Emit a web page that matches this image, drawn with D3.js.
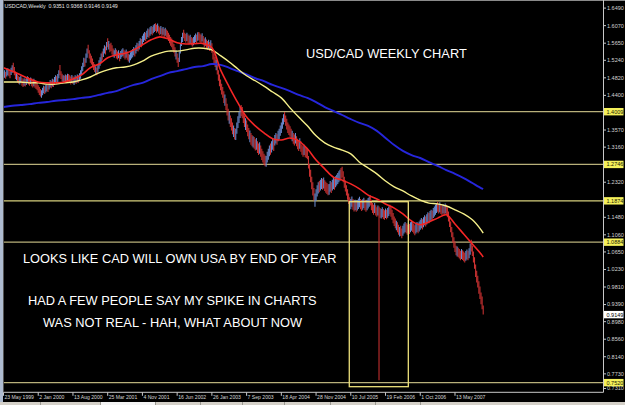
<!DOCTYPE html>
<html><head><meta charset="utf-8">
<script src="https://cdn.jsdelivr.net/npm/d3@7"></script>
<style>html,body{margin:0;padding:0;background:#000;overflow:hidden}svg{display:block}</style>
</head><body><svg id="c" width="625" height="405"></svg>
<script>
// Weekly USDCAD bars (23 May 1999 onward), high / low / direction (u = up, d = down)
const weekHigh = [
1.497,1.500,1.496,1.503,1.505,1.502,1.498,1.506,1.512,1.518,
1.508,1.497,1.494,1.490,1.486,1.484,1.487,1.482,1.478,1.481,
1.479,1.483,1.486,1.484,1.480,1.483,1.481,1.477,1.480,1.476,
1.473,1.470,1.464,1.460,1.455,1.452,1.458,1.463,1.461,1.465,
1.468,1.466,1.472,1.477,1.475,1.480,1.478,1.484,1.488,1.486,
1.491,1.500,1.513,1.498,1.492,1.488,1.487,1.490,1.488,1.492,
1.491,1.488,1.485,1.489,1.486,1.483,1.488,1.486,1.490,1.488,
1.493,1.500,1.510,1.518,1.530,1.528,1.540,1.552,1.561,1.548,
1.540,1.535,1.528,1.520,1.515,1.510,1.506,1.515,1.524,1.531,
1.540,1.545,1.552,1.560,1.557,1.568,1.577,1.570,1.563,1.566,
1.560,1.552,1.548,1.553,1.549,1.545,1.548,1.542,1.546,1.550,
1.553,1.549,1.546,1.550,1.545,1.540,1.538,1.543,1.547,1.551,
1.556,1.553,1.560,1.566,1.564,1.570,1.577,1.575,1.583,1.588,
1.592,1.590,1.595,1.600,1.598,1.603,1.606,1.604,1.608,1.611,
1.613,1.609,1.612,1.607,1.603,1.606,1.601,1.604,1.599,1.602,
1.598,1.595,1.590,1.585,1.580,1.576,1.570,1.563,1.555,1.548,
1.540,1.530,1.545,1.565,1.580,1.590,1.597,1.590,1.587,1.590,
1.586,1.582,1.585,1.580,1.577,1.580,1.584,1.588,1.585,1.591,
1.592,1.588,1.585,1.589,1.582,1.576,1.579,1.574,1.570,1.573,
1.568,1.572,1.565,1.550,1.540,1.532,1.525,1.515,1.500,1.490,
1.478,1.468,1.460,1.450,1.442,1.433,1.420,1.408,1.400,1.392,
1.385,1.375,1.368,1.362,1.360,1.375,1.390,1.400,1.412,1.417,
1.412,1.400,1.392,1.385,1.380,1.370,1.362,1.356,1.350,1.345,
1.342,1.340,1.335,1.338,1.330,1.325,1.328,1.320,1.312,1.306,
1.300,1.296,1.295,1.305,1.312,1.320,1.325,1.330,1.336,1.333,
1.345,1.350,1.347,1.355,1.360,1.368,1.375,1.385,1.395,1.400,
1.392,1.384,1.375,1.370,1.366,1.360,1.355,1.350,1.346,1.350,
1.342,1.336,1.332,1.337,1.330,1.322,1.318,1.322,1.318,1.315,
1.312,1.295,1.275,1.262,1.245,1.232,1.218,1.205,1.215,1.225,
1.232,1.235,1.238,1.242,1.240,1.243,1.237,1.233,1.230,1.227,
1.228,1.235,1.232,1.238,1.242,1.240,1.246,1.250,1.254,1.258,
1.262,1.266,1.269,1.258,1.245,1.236,1.225,1.215,1.205,1.196,
1.192,1.198,1.192,1.187,1.190,1.186,1.189,1.193,1.197,1.192,
1.188,1.191,1.195,1.190,1.186,1.190,1.194,1.198,1.201,1.190,
1.182,1.178,1.182,1.177,1.172,1.176,1.174,1.170,1.168,1.172,
1.168,1.165,1.169,1.166,1.170,1.174,1.178,1.172,1.166,1.158,
1.150,1.145,1.140,1.136,1.130,1.125,1.128,1.121,1.128,1.133,
1.137,1.134,1.130,1.135,1.132,1.136,1.140,1.137,1.133,1.129,
1.133,1.137,1.134,1.138,1.142,1.146,1.143,1.148,1.153,1.150,
1.155,1.160,1.158,1.163,1.166,1.164,1.170,1.174,1.178,1.182,
1.185,1.180,1.184,1.179,1.176,1.180,1.177,1.181,1.178,1.172,
1.162,1.150,1.138,1.125,1.112,1.100,1.090,1.080,1.078,1.075,
1.072,1.068,1.072,1.069,1.066,1.063,1.067,1.071,1.068,1.074,
1.085,1.094,1.080,1.066,1.052,1.035,1.020,1.008,0.995,0.982,
0.968,0.958,0.937];
const weekLow = [
1.478,1.482,1.480,1.485,1.488,1.486,1.481,1.489,1.494,1.497,
1.488,1.479,1.476,1.471,1.468,1.466,1.470,1.463,1.460,1.463,
1.461,1.465,1.469,1.466,1.463,1.467,1.462,1.459,1.462,1.458,
1.455,1.452,1.446,1.441,1.437,1.434,1.440,1.445,1.443,1.447,
1.450,1.448,1.454,1.459,1.457,1.461,1.460,1.465,1.470,1.468,
1.472,1.481,1.488,1.479,1.474,1.470,1.469,1.472,1.470,1.474,
1.473,1.470,1.466,1.470,1.467,1.465,1.469,1.468,1.471,1.470,
1.474,1.480,1.489,1.498,1.508,1.509,1.518,1.530,1.540,1.528,
1.518,1.514,1.508,1.501,1.496,1.492,1.488,1.495,1.504,1.511,
1.519,1.525,1.532,1.540,1.538,1.548,1.555,1.550,1.543,1.546,
1.538,1.533,1.530,1.534,1.528,1.526,1.529,1.522,1.527,1.531,
1.534,1.530,1.526,1.530,1.525,1.521,1.518,1.524,1.528,1.531,
1.536,1.533,1.540,1.546,1.545,1.550,1.557,1.555,1.563,1.568,
1.572,1.570,1.575,1.580,1.578,1.583,1.587,1.584,1.589,1.592,
1.594,1.590,1.593,1.588,1.584,1.587,1.582,1.585,1.580,1.583,
1.579,1.575,1.570,1.565,1.559,1.555,1.549,1.542,1.533,1.526,
1.518,1.508,1.520,1.540,1.558,1.568,1.577,1.570,1.566,1.570,
1.565,1.562,1.565,1.560,1.557,1.560,1.564,1.568,1.565,1.571,
1.572,1.568,1.565,1.569,1.561,1.555,1.559,1.553,1.549,1.552,
1.546,1.550,1.542,1.526,1.515,1.508,1.500,1.490,1.475,1.462,
1.452,1.442,1.434,1.422,1.415,1.405,1.392,1.380,1.372,1.364,
1.356,1.347,1.340,1.334,1.333,1.348,1.362,1.374,1.386,1.390,
1.385,1.374,1.364,1.357,1.352,1.342,1.335,1.328,1.322,1.318,
1.315,1.312,1.308,1.310,1.302,1.297,1.300,1.293,1.285,1.279,
1.274,1.270,1.269,1.279,1.286,1.294,1.298,1.303,1.310,1.307,
1.320,1.325,1.322,1.330,1.335,1.343,1.350,1.360,1.370,1.376,
1.367,1.358,1.350,1.345,1.341,1.335,1.330,1.324,1.320,1.325,
1.318,1.311,1.307,1.312,1.305,1.298,1.293,1.297,1.292,1.290,
1.287,1.265,1.245,1.232,1.215,1.200,1.188,1.173,1.187,1.198,
1.205,1.208,1.212,1.216,1.214,1.217,1.211,1.207,1.204,1.201,
1.202,1.209,1.206,1.212,1.216,1.214,1.220,1.224,1.228,1.232,
1.236,1.240,1.243,1.232,1.219,1.210,1.200,1.190,1.180,1.172,
1.167,1.173,1.166,1.162,1.165,1.161,1.164,1.168,1.172,1.167,
1.163,1.166,1.170,1.165,1.161,1.165,1.169,1.173,1.176,1.165,
1.158,1.154,1.158,1.152,1.149,1.152,0.758,1.147,1.145,1.148,
1.144,1.142,1.146,1.143,1.147,1.151,1.155,1.149,1.142,1.134,
1.127,1.122,1.117,1.112,1.106,1.102,1.103,1.098,1.104,1.109,
1.113,1.110,1.106,1.111,1.108,1.112,1.116,1.113,1.109,1.105,
1.109,1.113,1.110,1.114,1.118,1.122,1.119,1.124,1.129,1.126,
1.131,1.136,1.134,1.139,1.142,1.140,1.146,1.150,1.154,1.158,
1.161,1.157,1.160,1.156,1.153,1.157,1.153,1.157,1.154,1.148,
1.138,1.125,1.112,1.100,1.087,1.075,1.065,1.057,1.054,1.052,
1.049,1.045,1.048,1.046,1.043,1.040,1.044,1.047,1.045,1.050,
1.058,1.066,1.055,1.040,1.025,1.005,0.992,0.980,0.965,0.952,
0.940,0.928,0.915];
const weekDir =
"duduudduud"+"ddudduuddu"+"duudduddud"+"ddddduuudu"+"uduududuud"+
"uudddududu"+"ddduduudud"+"uuuuuduudd"+"ddddduduuu"+"uduudududdu".slice(0,10)+
"dduudduduu"+"uddudduuuu"+"uduuduuduu"+"uduuduuduu"+"dduddududu"+
"dddddddddu"+"dduuuudddu"+"ddudduuudu"+"dddudduddu"+"dudddduddd"+
"ddddudddud"+"dduduuuuud"+"dddudddudd"+"uddudduddd"+"dduuuuduud"+
"uuduuuuuud"+"dddddduddu"+"dddudddudd"+"ddddddduuu"+"uduududddd"+
"uuduuduuuu"+"uddddddddd"+"uudduduuud"+"duudduuudd"+"dduddudduu"+
"dduduudddd"+"dduddudduu"+"udduduuddd"+"uuduuuduud"+"uuduuduuuu"+
"dduddududd"+"ddddddddud"+"dduddduudu"+"uddddddddd"+"ddd";

const maWeeks = [0,8,16,24,32,40,48,56,64,72,80,88,96,104,112,120,128,136,144,152,160,168,176,184,192,200,208,216,224,232,240,248,256,264,272,280,288,296,304,312,320,328,336,344,352,360,368,376,384,392,400,408,416,424,432,440,442];
const maFast = [1.506,1.498,1.489,1.479,1.472,1.470,1.470,1.472,1.479,1.489,1.506,1.515,1.530,1.537,1.541,1.549,1.561,1.573,1.580,1.575,1.566,1.563,1.564,1.564,1.554,1.501,1.460,1.422,1.388,1.367,1.350,1.336,1.333,1.338,1.331,1.312,1.285,1.264,1.244,1.237,1.228,1.216,1.201,1.192,1.180,1.170,1.156,1.139,1.130,1.137,1.146,1.154,1.132,1.108,1.084,1.060,1.053];
const maMid = [1.472,1.472,1.472,1.470,1.470,1.467,1.467,1.470,1.472,1.477,1.484,1.494,1.501,1.506,1.508,1.513,1.522,1.534,1.541,1.546,1.546,1.549,1.553,1.553,1.549,1.535,1.520,1.503,1.487,1.475,1.462,1.448,1.434,1.410,1.388,1.367,1.343,1.326,1.316,1.309,1.300,1.280,1.266,1.252,1.235,1.221,1.211,1.199,1.189,1.182,1.180,1.175,1.166,1.156,1.142,1.118,1.110];
const maSlow = [1.412,1.415,1.417,1.419,1.422,1.424,1.427,1.429,1.431,1.434,1.436,1.441,1.446,1.450,1.458,1.465,1.470,1.479,1.486,1.494,1.498,1.503,1.508,1.510,1.515,1.513,1.506,1.498,1.490,1.481,1.474,1.465,1.458,1.450,1.441,1.434,1.424,1.412,1.403,1.393,1.383,1.374,1.367,1.355,1.338,1.321,1.307,1.297,1.290,1.280,1.271,1.261,1.252,1.242,1.230,1.218,1.216];

const priceTicks = [1.6490,1.6070,1.5650,1.5240,1.4820,1.4400,1.3570,1.3160,1.2320,1.1480,1.1060,1.0650,1.0230,0.9810,0.9390,0.8980,0.8560,0.8140,0.7730,0.7310];
const levelLines = [1.4009,1.2746,1.1874,1.0884,0.7520];
const lastPrice = 0.9149;
const dateWeeks = [0,32,64,96,128,160,192,224,256,288,320,352,384,416];
const dateLabels = ["23 May 1999","2 Jan 2000","13 Aug 2000","25 Mar 2001","4 Nov 2001","16 Jun 2002","26 Jan 2003","7 Sep 2003","18 Apr 2004","28 Nov 2004","10 Jul 2005","19 Feb 2006","1 Oct 2006","13 May 2007"];
const boxWeeks = [318.6, 373.0];
const boxPrices = [1.1853, 0.7423];
const headerText = "USDCAD,Weekly  0.9351 0.9368 0.9146 0.9149";
const noteTexts = ["USD/CAD WEEKLY CHART","LOOKS LIKE CAD WILL OWN USA BY END OF YEAR","HAD A FEW PEOPLE SAY MY SPIKE IN CHARTS","WAS NOT REAL - HAH, WHAT ABOUT NOW"];

// ---------- layout ----------
const W = 625, H = 405;
const plot = {left: 3.5, right: 603.5, top: 1, bottom: 392.3};
const svg = d3.select("#c");
const x = d3.scaleLinear().domain([0, 442]).range([3.5, 3.5 + 442 * 1.0853]);
const y = d3.scaleLinear().domain([0.7310, 1.6490]).range([391.4, 8.1]);

svg.append("rect").attr("width", W).attr("height", H).attr("fill", "#000");
// window borders
svg.append("rect").attr("x", 0).attr("y", 0).attr("width", 3).attr("height", 402).attr("fill", "#aebbd0");
svg.append("line").attr("x1", 3).attr("x2", W).attr("y1", 0.5).attr("y2", 0.5).attr("stroke", "#8a8a8a");
svg.append("rect").attr("x", 0).attr("y", 402).attr("width", W).attr("height", 3).attr("fill", "#d4d0c8");
svg.append("rect").attr("x", 100).attr("y", 402).attr("width", 55).attr("height", 3).attr("fill", "#f4f4f4");
[40, 100, 155, 200, 242, 284, 330, 375, 420].forEach(v =>
  svg.append("line").attr("x1", v + 0.5).attr("x2", v + 0.5).attr("y1", 402).attr("y2", 405).attr("stroke", "#9a9890"));

const defs = svg.append("defs");
defs.append("clipPath").attr("id", "pc").append("rect")
  .attr("x", plot.left).attr("y", plot.top).attr("width", plot.right - plot.left).attr("height", plot.bottom - plot.top);
const g = svg.append("g").attr("clip-path", "url(#pc)");

// horizontal levels
g.selectAll("line.lvl").data(levelLines).join("line")
  .attr("x1", plot.left).attr("x2", plot.right)
  .attr("y1", d => y(d)).attr("y2", d => y(d))
  .attr("stroke", (d, i) => i === 2 ? "#d6cf7c" : "#b8b07a").attr("stroke-width", 1.3);

// bars
const idx = d3.range(weekHigh.length);
g.selectAll("line.bar").data(idx).join("line")
  .attr("x1", i => x(i)).attr("x2", i => x(i))
  .attr("y1", i => y(weekHigh[i])).attr("y2", i => y(weekLow[i]))
  .attr("stroke", i => weekDir[i] === "u" ? "#6a8ad0" : "#cc3232")
  .attr("stroke-width", 1.05);

// moving averages
const maLine = arr => d3.line().x((d, i) => x(maWeeks[i])).y(d => y(d)).curve(d3.curveCatmullRom.alpha(0.5))(arr);
g.append("path").attr("d", maLine(maSlow)).attr("fill", "none").attr("stroke", "#2626dc").attr("stroke-width", 1.9);
g.append("path").attr("d", maLine(maMid)).attr("fill", "none").attr("stroke", "#f6f08a").attr("stroke-width", 1.4);
g.append("path").attr("d", maLine(maFast)).attr("fill", "none").attr("stroke", "#f42626").attr("stroke-width", 1.6);

// annotation box
g.append("rect")
  .attr("x", x(boxWeeks[0])).attr("y", y(boxPrices[0]))
  .attr("width", x(boxWeeks[1]) - x(boxWeeks[0])).attr("height", y(boxPrices[1]) - y(boxPrices[0]))
  .attr("fill", "none").attr("stroke", "#ece07a").attr("stroke-width", 1.3);

// axes lines
svg.append("line").attr("x1", plot.right).attr("x2", plot.right).attr("y1", 0).attr("y2", plot.bottom)
  .attr("stroke", "#c8c8c8");
svg.append("line").attr("x1", plot.left).attr("x2", plot.right).attr("y1", plot.bottom).attr("y2", plot.bottom)
  .attr("stroke", "#c8c8c8");
svg.append("line").attr("x1", plot.left).attr("x2", plot.left).attr("y1", 0).attr("y2", plot.bottom)
  .attr("stroke", "#6a6a6a").attr("stroke-width", 0.8);

const font = "'Liberation Sans', Arial, sans-serif";

// price axis
const pa = svg.append("g");
priceTicks.forEach(v => {
  const yy = Math.min(y(v), 388.5);
  pa.append("line").attr("x1", plot.right).attr("x2", plot.right + 2.5).attr("y1", yy).attr("y2", yy).attr("stroke", "#c8c8c8");
  pa.append("text").attr("x", 607).attr("y", yy).attr("dy", "0.35em").text(v.toFixed(4))
    .attr("fill", "#d4d4d4").attr("font-size", 5.5).attr("font-family", font);
});
levelLines.forEach(v => {
  const yy = y(v);
  pa.append("rect").attr("x", plot.right + 0.5).attr("y", yy - 3.7).attr("width", 19.5).attr("height", 7.4).attr("fill", "#f4f05a");
  pa.append("text").attr("x", 606.5).attr("y", yy).attr("dy", "0.35em").text(v.toFixed(4))
    .attr("fill", "#202000").attr("font-size", 5.5).attr("font-family", font);
});
{
  const yy = y(lastPrice);
  pa.append("rect").attr("x", plot.right + 0.5).attr("y", yy - 3.7).attr("width", 19.5).attr("height", 7.4).attr("fill", "#ffffff");
  pa.append("text").attr("x", 606.5).attr("y", yy).attr("dy", "0.35em").text(lastPrice.toFixed(4))
    .attr("fill", "#000").attr("font-size", 5.5).attr("font-family", font);
}

// date axis
dateWeeks.forEach((w, k) => {
  const xx = x(w);
  svg.append("line").attr("x1", xx).attr("x2", xx).attr("y1", plot.bottom).attr("y2", plot.bottom + 3.5).attr("stroke", "#c8c8c8");
  svg.append("text").attr("x", xx + 1).attr("y", 398.6).text(dateLabels[k])
    .attr("fill", "#d4d4d4").attr("font-size", 5.1).attr("font-family", font);
});

// header
svg.append("text").attr("x", 4.5).attr("y", 8.4).text(headerText).attr("xml:space", "preserve")
  .style("white-space", "pre")
  .attr("fill", "#e6e6e6").attr("font-size", 5.3).attr("font-family", font);

// notes
const notePos = [[306, 58.3], [23, 262.7], [28, 305], [43, 326.7]];
noteTexts.forEach((t, k) => {
  svg.append("text").attr("x", notePos[k][0]).attr("y", notePos[k][1]).text(t)
    .attr("fill", "#ffffff").attr("font-size", 12.8).attr("font-family", font);
});
</script></body></html>
